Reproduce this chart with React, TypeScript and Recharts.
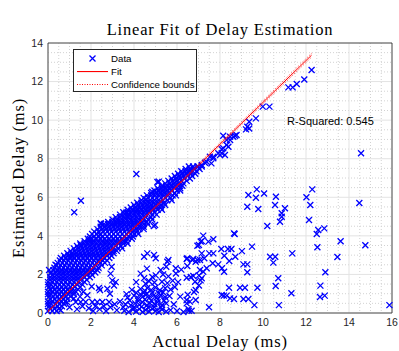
import {
    ScatterChart,
    Scatter,
    XAxis,
    YAxis,
    CartesianGrid,
    ReferenceArea,
    Legend,
} from 'recharts';

const SANS = 'Liberation Sans, Arial, Helvetica, sans-serif';
const SERIF = 'Liberation Serif, Times New Roman, serif';

const xTicks = [0, 2, 4, 6, 8, 10, 12, 14, 16];
const yTicks = [0, 2, 4, 6, 8, 10, 12, 14];
const xMinor = [0.5, 1, 1.5, 2.5, 3, 3.5, 4.5, 5, 5.5, 6.5, 7, 7.5, 8.5, 9, 9.5, 10.5, 11, 11.5, 12.5, 13, 13.5, 14.5, 15, 15.5];
const yMinor = [0.5, 1, 1.5, 2.5, 3, 3.5, 4.5, 5, 5.5, 6.5, 7, 7.5, 8.5, 9, 9.5, 10.5, 11, 11.5, 12.5, 13, 13.5];

// fit and its bounds, end points
const fitX = [0, 12.26];
const fitY = [0.08, 13.37];
const lowerY = [0.05, 13.27];
const upperY = [0.11, 13.47];
const rSquared = '0.545';

// the dense band of samples along the diagonal
const bandPoints: [number, number][] = [
    [0, 0.1], [0.2, 0.1], [0.4, 0.1],
    [0.05, 0.35], [0.25, 0.35], [0.45, 0.35], [0.65, 0.35],
    [0, 0.6], [0.2, 0.6], [0.4, 0.6], [0.6, 0.6], [0.8, 0.6],
    [0.05, 0.85], [0.25, 0.85], [0.45, 0.85], [0.65, 0.85], [0.85, 0.85], [1.05, 0.85],
    [0, 1.1], [0.2, 1.1], [0.4, 1.1], [0.6, 1.1], [0.8, 1.1], [1.0, 1.1], [1.3, 1.1],
    [0.05, 1.35], [0.25, 1.35], [0.45, 1.35], [0.65, 1.35], [0.85, 1.35], [1.05, 1.35], [1.25, 1.35], [1.5, 1.35],
    [0, 1.6], [0.2, 1.6], [0.4, 1.6], [0.6, 1.6], [0.8, 1.6], [1.0, 1.6], [1.2, 1.6], [1.4, 1.6], [1.7, 1.6],
    [0.1, 1.85], [0.3, 1.85], [0.5, 1.85], [0.7, 1.85], [0.9, 1.85], [1.1, 1.85], [1.3, 1.85], [1.5, 1.85], [1.7, 1.85], [1.95, 1.85],
    [0.15, 2.1], [0.4, 2.1], [0.6, 2.1], [0.8, 2.1], [1.0, 2.1], [1.2, 2.1], [1.4, 2.1], [1.6, 2.1], [1.8, 2.1], [2.0, 2.1], [2.2, 2.1],
    [0.3, 2.35], [0.5, 2.35], [0.7, 2.35], [0.9, 2.35], [1.1, 2.35], [1.3, 2.35], [1.5, 2.35], [1.7, 2.35], [1.9, 2.35], [2.1, 2.35], [2.35, 2.35],
    [0.45, 2.6], [0.65, 2.6], [0.85, 2.6], [1.05, 2.6], [1.25, 2.6], [1.45, 2.6], [1.65, 2.6], [1.85, 2.6], [2.05, 2.6], [2.25, 2.6], [2.45, 2.6], [2.65, 2.6],
    [0.6, 2.85], [0.8, 2.85], [1.0, 2.85], [1.2, 2.85], [1.4, 2.85], [1.6, 2.85], [1.8, 2.85], [2.0, 2.85], [2.2, 2.85], [2.4, 2.85], [2.6, 2.85], [2.85, 2.85],
    [0.9, 3.1], [1.1, 3.1], [1.3, 3.1], [1.5, 3.1], [1.7, 3.1], [1.9, 3.1], [2.1, 3.1], [2.3, 3.1], [2.5, 3.1], [2.7, 3.1], [2.9, 3.1], [3.05, 3.1],
    [1.2, 3.35], [1.4, 3.35], [1.6, 3.35], [1.8, 3.35], [2.0, 3.35], [2.2, 3.35], [2.4, 3.35], [2.6, 3.35], [2.8, 3.35], [3.0, 3.35], [3.25, 3.35],
    [1.5, 3.6], [1.7, 3.6], [1.9, 3.6], [2.1, 3.6], [2.3, 3.6], [2.5, 3.6], [2.7, 3.6], [2.9, 3.6], [3.1, 3.6], [3.3, 3.6], [3.5, 3.6],
    [1.85, 3.85], [2.05, 3.85], [2.25, 3.85], [2.45, 3.85], [2.65, 3.85], [2.85, 3.85], [3.05, 3.85], [3.25, 3.85], [3.45, 3.85], [3.7, 3.85],
    [2.05, 4.1], [2.25, 4.1], [2.45, 4.1], [2.65, 4.1], [2.85, 4.1], [3.05, 4.1], [3.25, 4.1], [3.45, 4.1], [3.65, 4.1], [3.85, 4.1], [4.0, 4.1],
    [2.3, 4.35], [2.5, 4.35], [2.7, 4.35], [2.9, 4.35], [3.1, 4.35], [3.3, 4.35], [3.5, 4.35], [3.7, 4.35], [3.9, 4.35], [4.1, 4.35], [4.25, 4.35],
    [2.6, 4.6], [2.8, 4.6], [3.0, 4.6], [3.2, 4.6], [3.4, 4.6], [3.6, 4.6], [3.8, 4.6], [4.0, 4.6], [4.2, 4.6], [4.45, 4.6],
    [3.0, 4.85], [3.2, 4.85], [3.4, 4.85], [3.6, 4.85], [3.8, 4.85], [4.0, 4.85], [4.2, 4.85], [4.4, 4.85], [4.65, 4.85],
    [3.35, 5.1], [3.55, 5.1], [3.75, 5.1], [3.95, 5.1], [4.15, 5.1], [4.35, 5.1], [4.55, 5.1], [4.85, 5.1],
    [3.7, 5.35], [3.9, 5.35], [4.1, 5.35], [4.3, 5.35], [4.5, 5.35], [4.7, 5.35], [4.9, 5.35], [5.1, 5.35],
    [4.0, 5.6], [4.2, 5.6], [4.4, 5.6], [4.6, 5.6], [4.8, 5.6], [5.0, 5.6], [5.25, 5.6],
    [4.35, 5.85], [4.55, 5.85], [4.75, 5.85], [4.95, 5.85], [5.15, 5.85], [5.35, 5.85], [5.55, 5.85],
    [4.6, 6.1], [4.8, 6.1], [5.0, 6.1], [5.2, 6.1], [5.4, 6.1], [5.6, 6.1], [5.8, 6.1],
    [4.95, 6.35], [5.15, 6.35], [5.35, 6.35], [5.55, 6.35], [5.75, 6.35], [6.0, 6.35],
    [5.3, 6.6], [5.5, 6.6], [5.7, 6.6], [5.9, 6.6], [6.1, 6.6], [6.25, 6.6],
    [5.6, 6.85], [5.8, 6.85], [6.0, 6.85], [6.2, 6.85], [6.45, 6.85],
    [5.9, 7.1], [6.1, 7.1], [6.3, 7.1], [6.5, 7.1], [6.7, 7.1],
    [6.2, 7.35], [6.4, 7.35], [6.6, 7.35], [6.9, 7.35],
    [6.55, 7.6], [6.75, 7.6], [6.95, 7.6], [7.15, 7.6],
];

// in-between rows of the band (it is solid blue in the plot)
const bandFill: [number, number][] = [
    [0.1, 0.22], [0.3, 0.22], [0.5, 0.22],
    [0, 0.47], [0.15, 0.47], [0.35, 0.47], [0.55, 0.47], [0.75, 0.47],
    [0.1, 0.72], [0.3, 0.72], [0.5, 0.72], [0.7, 0.72], [0.9, 0.72],
    [0, 0.97], [0.15, 0.97], [0.35, 0.97], [0.55, 0.97], [0.75, 0.97], [0.95, 0.97], [1.2, 0.97],
    [0.1, 1.22], [0.3, 1.22], [0.5, 1.22], [0.7, 1.22], [0.9, 1.22], [1.1, 1.22], [1.4, 1.22],
    [0, 1.47], [0.15, 1.47], [0.35, 1.47], [0.55, 1.47], [0.75, 1.47], [0.95, 1.47], [1.15, 1.47], [1.35, 1.47], [1.6, 1.47],
    [0.1, 1.72], [0.3, 1.72], [0.5, 1.72], [0.7, 1.72], [0.9, 1.72], [1.1, 1.72], [1.3, 1.72], [1.5, 1.72], [1.8, 1.72],
    [0.2, 1.97], [0.4, 1.97], [0.6, 1.97], [0.8, 1.97], [1.0, 1.97], [1.2, 1.97], [1.4, 1.97], [1.6, 1.97], [1.8, 1.97], [2.05, 1.97],
    [0.25, 2.22], [0.45, 2.22], [0.65, 2.22], [0.85, 2.22], [1.05, 2.22], [1.25, 2.22], [1.45, 2.22], [1.65, 2.22], [1.85, 2.22], [2.05, 2.22], [2.3, 2.22],
    [0.4, 2.47], [0.6, 2.47], [0.8, 2.47], [1.0, 2.47], [1.2, 2.47], [1.4, 2.47], [1.6, 2.47], [1.8, 2.47], [2.0, 2.47], [2.2, 2.47], [2.5, 2.47],
    [0.55, 2.72], [0.75, 2.72], [0.95, 2.72], [1.15, 2.72], [1.35, 2.72], [1.55, 2.72], [1.75, 2.72], [1.95, 2.72], [2.15, 2.72], [2.35, 2.72], [2.55, 2.72], [2.75, 2.72],
    [0.75, 2.97], [0.95, 2.97], [1.15, 2.97], [1.35, 2.97], [1.55, 2.97], [1.75, 2.97], [1.95, 2.97], [2.15, 2.97], [2.35, 2.97], [2.55, 2.97], [2.75, 2.97], [2.95, 2.97],
    [1.05, 3.22], [1.25, 3.22], [1.45, 3.22], [1.65, 3.22], [1.85, 3.22], [2.05, 3.22], [2.25, 3.22], [2.45, 3.22], [2.65, 3.22], [2.85, 3.22], [3.05, 3.22], [3.2, 3.22],
    [1.35, 3.47], [1.55, 3.47], [1.75, 3.47], [1.95, 3.47], [2.15, 3.47], [2.35, 3.47], [2.55, 3.47], [2.75, 3.47], [2.95, 3.47], [3.15, 3.47], [3.4, 3.47],
    [1.7, 3.72], [1.9, 3.72], [2.1, 3.72], [2.3, 3.72], [2.5, 3.72], [2.7, 3.72], [2.9, 3.72], [3.1, 3.72], [3.3, 3.72], [3.5, 3.72], [3.65, 3.72],
    [1.95, 3.97], [2.15, 3.97], [2.35, 3.97], [2.55, 3.97], [2.75, 3.97], [2.95, 3.97], [3.15, 3.97], [3.35, 3.97], [3.55, 3.97], [3.75, 3.97], [3.95, 3.97],
    [2.15, 4.22], [2.35, 4.22], [2.55, 4.22], [2.75, 4.22], [2.95, 4.22], [3.15, 4.22], [3.35, 4.22], [3.55, 4.22], [3.75, 4.22], [3.95, 4.22], [4.15, 4.22],
    [2.45, 4.47], [2.65, 4.47], [2.85, 4.47], [3.05, 4.47], [3.25, 4.47], [3.45, 4.47], [3.65, 4.47], [3.85, 4.47], [4.05, 4.47], [4.25, 4.47], [4.45, 4.47],
    [2.8, 4.72], [3.0, 4.72], [3.2, 4.72], [3.4, 4.72], [3.6, 4.72], [3.8, 4.72], [4.0, 4.72], [4.2, 4.72], [4.4, 4.72], [4.6, 4.72],
    [3.15, 4.97], [3.35, 4.97], [3.55, 4.97], [3.75, 4.97], [3.95, 4.97], [4.15, 4.97], [4.35, 4.97], [4.55, 4.97], [4.8, 4.97],
    [3.5, 5.22], [3.7, 5.22], [3.9, 5.22], [4.1, 5.22], [4.3, 5.22], [4.5, 5.22], [4.7, 5.22], [4.95, 5.22],
    [3.85, 5.47], [4.05, 5.47], [4.25, 5.47], [4.45, 5.47], [4.65, 5.47], [4.85, 5.47], [5.05, 5.47], [5.25, 5.47],
    [4.15, 5.72], [4.35, 5.72], [4.55, 5.72], [4.75, 5.72], [4.95, 5.72], [5.15, 5.72], [5.4, 5.72],
    [4.45, 5.97], [4.65, 5.97], [4.85, 5.97], [5.05, 5.97], [5.25, 5.97], [5.45, 5.97], [5.7, 5.97],
    [4.8, 6.22], [5.0, 6.22], [5.2, 6.22], [5.4, 6.22], [5.6, 6.22], [5.9, 6.22],
    [5.1, 6.47], [5.3, 6.47], [5.5, 6.47], [5.7, 6.47], [5.9, 6.47], [6.15, 6.47],
    [5.45, 6.72], [5.65, 6.72], [5.85, 6.72], [6.05, 6.72], [6.3, 6.72],
    [5.75, 6.97], [5.95, 6.97], [6.15, 6.97], [6.35, 6.97], [6.6, 6.97],
    [6.05, 7.22], [6.25, 7.22], [6.45, 7.22], [6.65, 7.22], [6.85, 7.22],
    [6.4, 7.47], [6.6, 7.47], [6.8, 7.47], [7.05, 7.47],
    [3.45, 3.35], [3.7, 3.6], [3.9, 3.85], [4.2, 4.1], [4.45, 4.35], [4.65, 4.6], [4.85, 4.85],
    [5.05, 5.1], [5.3, 5.35], [5.45, 5.6], [5.75, 5.85], [5.95, 6.1], [6.15, 6.35],
];

// stragglers above the band
const aboveBand: [number, number][] = [
    [0.05, 2.23], [0.12, 2.05], [0.35, 2.5], [1.05, 2.95], [1.52, 3.53], [1.91, 3.78],
    [1.95, 3.84], [2.34, 3.99], [2.42, 4.04], [2.45, 4.65], [2.47, 4.61], [3.16, 4.73],
    [3.63, 5.2], [3.69, 5.03], [4.09, 5.25], [4.56, 5.89], [4.85, 6.29], [5.09, 6.79],
    [5.16, 6.81], [4.11, 7.21], [1.53, 5.82], [1.22, 5.22],
];

// upper end of the diagonal
const upperDiag: [number, number][] = [
    [6.76, 7.5], [6.99, 7.58], [7.15, 7.67], [7.3, 7.79], [7.38, 7.84], [7.53, 8.1],
    [7.6, 7.76], [7.69, 8.02], [7.69, 8.1], [7.92, 8.28], [8.0, 8.19], [8.08, 8.28],
    [8.08, 8.49], [8.15, 8.54], [8.23, 8.19], [8.31, 8.71], [8.39, 8.62], [8.47, 8.97],
    [8.15, 9.19], [8.31, 8.97], [8.47, 9.14], [8.62, 9.14], [8.7, 9.19], [8.77, 9.23],
    [9.21, 9.52], [9.27, 9.66], [9.36, 9.57], [9.36, 9.92], [9.67, 10.09], [9.99, 10.7],
    [10.3, 10.7], [11.18, 11.7], [11.38, 11.7], [11.57, 11.87], [11.92, 12.11], [12.26, 12.6],
];

// low estimates below the band, x < 3.6
const belowBand: [number, number][] = [
    [0.59, 0.14], [0.9, 0.55], [1.0, 0.3], [1.18, 1.1], [1.2, 0.75], [1.29, 0.57],
    [1.35, 0.2], [1.49, 0.85], [1.52, 0.57], [1.6, 0.35], [1.64, 1.1], [1.75, 0.57],
    [1.83, 0.92], [1.9, 0.25], [2.03, 1.37], [2.06, 0.57], [2.1, 0.1], [2.2, 0.35],
    [2.29, 0.57], [2.37, 1.3], [2.42, 1.19], [2.4, 0.2], [2.53, 0.57], [2.6, 0.35],
    [2.7, 0.1], [2.76, 1.26], [2.84, 0.57], [2.88, 1.0], [2.9, 0.3], [2.91, 2.04],
    [2.96, 2.4], [2.99, 1.69], [3.07, 1.43], [3.1, 0.45], [3.15, 1.6], [3.2, 0.15],
    [3.35, 0.6], [3.5, 0.3],
];

// the blob of low estimates around 4-7 ms
const lowCluster: [number, number][] = [
    [3.55, 0.12], [3.75, 0.05], [3.95, 0.18], [4.1, 0.08], [4.25, 0.2], [4.4, 0.05],
    [4.55, 0.15], [4.7, 0.08], [4.85, 0.22], [5.0, 0.1], [5.15, 0.05], [5.3, 0.18],
    [5.5, 0.08], [5.7, 0.15], [6.0, 0.1], [6.3, 0.05], [6.55, 0.12],
    [4.0, 0.3], [4.35, 0.32], [4.65, 0.28], [4.95, 0.3], [5.25, 0.3],
    [3.6, 0.45], [3.85, 0.4], [4.05, 0.5], [4.25, 0.42], [4.4, 0.55], [4.6, 0.4],
    [4.75, 0.5], [4.95, 0.45], [5.1, 0.55], [5.3, 0.4], [5.5, 0.5], [5.85, 0.45], [6.45, 0.5],
    [3.8, 0.65], [4.2, 0.62], [4.5, 0.7], [4.8, 0.65], [5.1, 0.7], [5.4, 0.65],
    [3.7, 0.8], [4.0, 0.9], [4.2, 0.75], [4.4, 0.85], [4.55, 0.95], [4.7, 0.78],
    [4.9, 0.9], [5.05, 0.8], [5.25, 0.92], [5.45, 0.82], [5.65, 0.88], [6.15, 0.85], [6.5, 0.95],
    [3.65, 0.98], [4.1, 1.05], [4.3, 0.98], [4.45, 1.05], [4.6, 1.0], [4.85, 1.05], [5.15, 1.02], [5.35, 1.08],
    [3.9, 1.2], [4.3, 1.25], [4.5, 1.15], [4.62, 1.3], [4.8, 1.2], [5.0, 1.32],
    [5.2, 1.18], [5.45, 1.28], [5.7, 1.22], [5.9, 1.35], [6.79, 1.09],
    [4.1, 1.6], [4.54, 1.52], [4.7, 1.65], [4.95, 1.58], [5.3, 1.62], [5.55, 1.55],
    [5.8, 1.68], [6.05, 1.6], [7.02, 1.43], [7.1, 1.69],
    [4.31, 2.04], [4.47, 1.81], [4.85, 1.87], [5.01, 1.95], [5.35, 2.0], [5.6, 1.9],
    [5.95, 2.05], [6.64, 1.87], [7.02, 1.95],
    [4.6, 2.3], [5.24, 2.23], [5.5, 2.4], [5.94, 2.32], [6.2, 2.25], [6.48, 2.44],
    [4.47, 2.92], [4.93, 3.01], [5.01, 2.84], [5.55, 2.66], [5.6, 2.75], [6.48, 2.84],
    [6.71, 2.75], [6.95, 2.75], [4.62, 3.09], [7.02, 3.53], [7.1, 3.7], [4.92, 4.51], [4.98, 4.56],
];

// scattered outliers to the right
const farPoints: [number, number][] = [
    [7.22, 4.01], [8.68, 4.1], [6.95, 3.49], [7.15, 3.73], [7.46, 3.7], [7.69, 3.82],
    [9.49, 3.44], [8.06, 3.32], [8.37, 3.32], [8.53, 3.32], [9.02, 3.21], [7.15, 3.09],
    [7.5, 3.09], [7.69, 3.09], [8.2, 2.97], [8.71, 2.92], [10.33, 2.92], [10.57, 2.92],
    [10.48, 2.61], [6.45, 2.8], [6.76, 2.8], [6.87, 2.66], [7.07, 2.75], [7.27, 2.84],
    [8.43, 2.7], [7.66, 2.58], [7.92, 2.52], [8.09, 2.32], [8.19, 2.14], [9.09, 2.52],
    [9.27, 2.52], [9.27, 2.11], [7.38, 2.32], [7.07, 2.23], [7.22, 2.14], [10.71, 1.8],
    [6.45, 1.83], [6.76, 1.92], [6.84, 1.62], [7.15, 1.8], [10.59, 1.4], [8.42, 1.31],
    [8.93, 1.31], [9.16, 1.31], [9.74, 1.31], [6.87, 1.19], [8.08, 0.93], [8.18, 0.9],
    [8.31, 0.9], [8.47, 0.76], [8.65, 0.73], [9.09, 0.73], [9.32, 0.73], [6.45, 0.67],
    [6.6, 0.59], [6.87, 0.67], [9.6, 0.41], [10.74, 0.41], [7.49, 0.3], [6.53, 0.21],
    [6.68, 0.12], [8.65, 4.13], [9.32, 6.12], [9.71, 6.41], [10.05, 6.2], [10.6, 6.03],
    [9.67, 5.98], [9.27, 5.51], [9.78, 5.39], [10.56, 5.6], [11.02, 5.43], [10.87, 5.17],
    [10.87, 4.99], [10.79, 4.73], [10.2, 4.51], [14.56, 8.28], [12.29, 6.41], [12.02, 6.0],
    [12.2, 5.6], [14.48, 5.7], [12.14, 4.82], [12.57, 4.3], [12.85, 4.39], [12.5, 4.1],
    [13.61, 3.72], [14.76, 3.51], [12.53, 3.41], [11.36, 3.09], [13.46, 2.9], [12.9, 2.11],
    [12.67, 1.42], [11.32, 1.02], [12.65, 0.83], [12.87, 0.9], [15.88, 0.41],
];

const scatterData = [...bandPoints, ...bandFill, ...aboveBand, ...upperDiag, ...belowBand, ...lowCluster, ...farPoints]
    .map(([x, y]) => ({ x, y }));

const fitData = fitX.map((x, i) => ({ x, y: fitY[i] }));
const lowerData = fitX.map((x, i) => ({ x, y: lowerY[i] }));
const upperData = fitX.map((x, i) => ({ x, y: upperY[i] }));

const BLUE = '#0000ff';
const RED = '#ff0000';

function XMark(props: any) {
    const { cx, cy } = props;
    const s = 3;
    return (
        <path
            d={`M${cx - s},${cy - s}L${cx + s},${cy + s}M${cx - s},${cy + s}L${cx + s},${cy - s}`}
            stroke={BLUE}
            strokeWidth={1.3}
            fill="none"
        />
    );
}

const NoMark = () => <g />;

function FitLegend() {
    const rows = ['Data', 'Fit', 'Confidence bounds'];
    return (
        <div
            style={{
                width: 124,
                height: 43,
                boxSizing: 'border-box',
                border: '1px solid #262626',
                background: '#fff',
                position: 'relative',
            }}
        >
            {rows.map((label, i) => (
                <div
                    key={label}
                    style={{
                        position: 'absolute',
                        left: 0,
                        top: 2 + i * 13,
                        height: 13,
                        display: 'flex',
                        alignItems: 'center',
                    }}
                >
                    <svg width={37} height={13} style={{ display: 'block' }}>
                        {i === 0 && (
                            <path d="M15.5,3.5L21.5,9.5M15.5,9.5L21.5,3.5" stroke={BLUE} strokeWidth={1.3} fill="none" />
                        )}
                        {i === 1 && <rect x={3} y={6} width={31} height={1.1} fill={RED} />}
                        {i === 2 && (
                            <path d="M3,6.5H34" stroke={RED} strokeWidth={1} strokeDasharray="1 1.5" fill="none" />
                        )}
                    </svg>
                    <span style={{ fontFamily: SANS, fontSize: 9.7, color: '#000', lineHeight: '13px' }}>{label}</span>
                </div>
            ))}
        </div>
    );
}

export default function App() {
    const tickStyle = { fill: '#262626', fontSize: 10.5, fontFamily: SANS };
    return (
        <div style={{ position: 'absolute', left: 0, top: 0, background: '#fff' }}>
            <ScatterChart width={399} height={351} margin={{ top: 43, right: 7, bottom: 0, left: 0 }}>
                <CartesianGrid stroke="#d2d2d2" strokeDasharray="1 2" verticalValues={xMinor} horizontalValues={yMinor} />
                <CartesianGrid stroke="#e3e3e3" verticalValues={xTicks} horizontalValues={yTicks} />
                <XAxis
                    type="number"
                    dataKey="x"
                    domain={[0, 16]}
                    ticks={xTicks}
                    interval={0}
                    height={38}
                    axisLine={false}
                    tickLine={false}
                    tickSize={0}
                    tickMargin={6}
                    tick={tickStyle}
                />
                <YAxis
                    type="number"
                    dataKey="y"
                    domain={[0, 14]}
                    ticks={yTicks}
                    interval={0}
                    width={48}
                    axisLine={false}
                    tickLine={false}
                    tickSize={0}
                    tickMargin={5}
                    tick={tickStyle}
                />
                <Scatter name="Data" data={scatterData} shape={XMark} isAnimationActive={false} />
                <Scatter
                    name="Lower bound"
                    data={lowerData}
                    shape={NoMark}
                    line={{ stroke: RED, strokeWidth: 1, strokeOpacity: 0.75, strokeDasharray: '1 1.5' }}
                    isAnimationActive={false}
                />
                <Scatter
                    name="Upper bound"
                    data={upperData}
                    shape={NoMark}
                    line={{ stroke: RED, strokeWidth: 1, strokeOpacity: 0.75, strokeDasharray: '1 1.5' }}
                    isAnimationActive={false}
                />
                <Scatter
                    name="Fit"
                    data={fitData}
                    shape={NoMark}
                    line={{ stroke: RED, strokeWidth: 1 }}
                    isAnimationActive={false}
                />
                <ReferenceArea x1={0} x2={16} y1={0} y2={14} fill="none" stroke="#262626" strokeWidth={0.8} ifOverflow="visible" />
                <Legend
                    layout="vertical"
                    align="center"
                    verticalAlign="middle"
                    wrapperStyle={{ left: 73, top: 49, width: 124, height: 43 }}
                    content={() => <FitLegend />}
                />
                <text x={220} y={34.5} textAnchor="middle" fontFamily={SERIF} fontSize={16.5} letterSpacing={0.8} fill="#000">
                    Linear Fit of Delay Estimation
                </text>
                <text x={220} y={347} textAnchor="middle" fontFamily={SERIF} fontSize={16.5} letterSpacing={0.8} fill="#000">
                    Actual Delay (ms)
                </text>
                <text
                    x={24}
                    y={178}
                    textAnchor="middle"
                    fontFamily={SERIF}
                    fontSize={16.5}
                    letterSpacing={0.8}
                    fill="#000"
                    transform="rotate(-90, 24, 178)"
                >
                    Estimated Delay (ms)
                </text>
                <text x={287} y={125} fontFamily={SANS} fontSize={11} fill="#000">
                    {`R-Squared: ${rSquared}`}
                </text>
            </ScatterChart>
        </div>
    );
}
